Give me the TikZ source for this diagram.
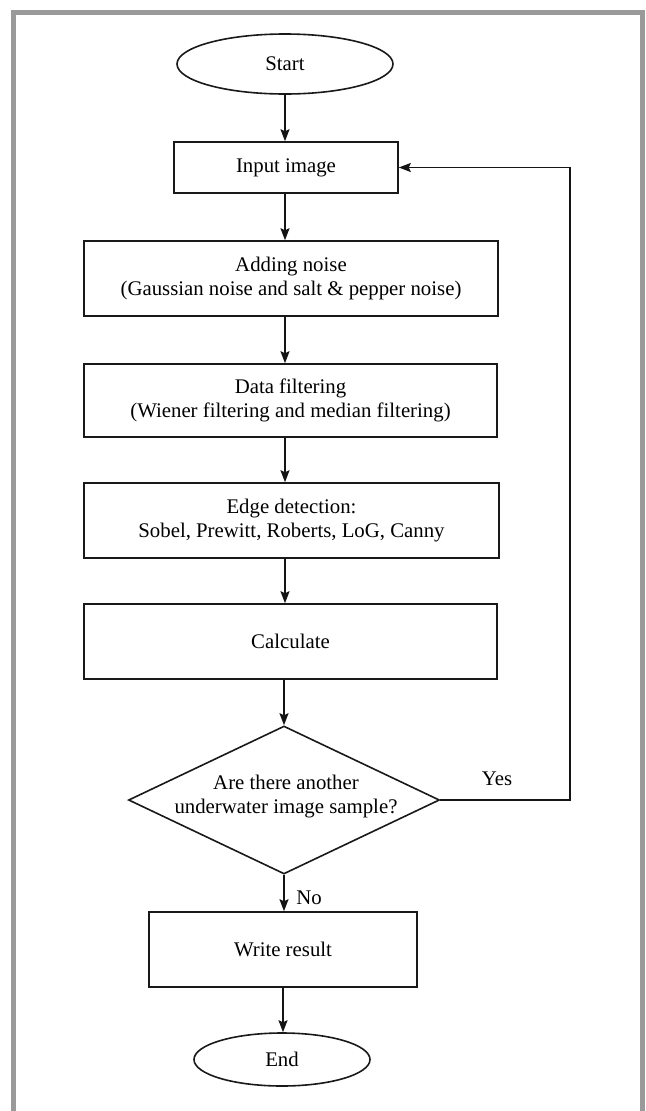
\documentclass[tikz,border=0pt]{standalone}
\usepackage{fontspec}
\setmainfont{Liberation Serif}
\usetikzlibrary{shapes.geometric,arrows.meta,calc}
\begin{document}
\begin{tikzpicture}[x=0.75pt,y=-0.75pt,
  every node/.style={font=\fontsize{15.6}{18}\selectfont, text=black},
  ln/.style={draw={rgb,255:red,25;green,25;blue,25}, line width=1.2pt},
  procbox/.style={ln, rectangle, inner sep=0pt, align=center},
  term/.style={ln, ellipse, inner sep=0pt},
  decision/.style={ln, diamond, inner sep=0pt, minimum width=233.25pt, minimum height=111pt},
  txt/.style={inner sep=0pt, align=center},
  arr/.style={draw={rgb,255:red,20;green,20;blue,20}, line width=1pt, -{Stealth[length=9pt,width=6.8pt,inset=1.5pt]}},
  frame/.style={draw={rgb,255:red,154;green,154;blue,154}, line width=3.8pt}
]
\useasboundingbox (0,0) rectangle (646,1111);
\draw[frame] (13.5,1125) -- (13.5,12.5) -- (642.5,12.5) -- (642.5,1125);

\node[term, minimum width=162pt, minimum height=45pt] (start) at (285,64) {Start};
\node[procbox, minimum width=168pt, minimum height=38.25pt] (in) at (286,167.5) {Input image};
\node[procbox, minimum width=310.5pt, minimum height=56.25pt] (add) at (291,278.5) {Adding noise\\(Gaussian noise and salt \& pepper noise)};
\node[procbox, minimum width=309.75pt, minimum height=54.75pt] (data) at (290.5,400.5) {Data filtering\\(Wiener filtering and median filtering)};
\node[procbox, minimum width=311.25pt, minimum height=56.25pt] (edge) at (291.5,520.5) {Edge detection:\\Sobel, Prewitt, Roberts, LoG, Canny};
\node[procbox, minimum width=309.75pt, minimum height=56.25pt] (calc) at (290.5,641.5) {Calculate};
\node[decision] (d) at (284,800) {};
\node[txt] (dtxt) at (286,797) {Are there another\\underwater image sample?};
\node[procbox, minimum width=201pt, minimum height=56.25pt] (wr) at (283,949.5) {Write result};
\node[term, minimum width=132pt, minimum height=39.75pt] (en) at (282,1059.5) {End};

\coordinate (axis) at (285,0);
\coordinate (lp) at (570,800);

\draw[arr] (start.south) -- (start.south |- in.north);
\draw[arr] (axis |- in.south) -- (axis |- add.north);
\draw[arr] (axis |- add.south) -- (axis |- data.north);
\draw[arr] (axis |- data.south) -- (axis |- edge.north);
\draw[arr] (axis |- edge.south) -- (axis |- calc.north);
\draw[arr] (d.north |- calc.south) -- (d.north);
\draw[arr] (d.south) -- (d.south |- wr.north);
\draw[arr] (wr.south) -- (wr.south |- en.north);
\draw[arr] (d.east) -- (lp) |- (in.east);

\node[txt] (yes) at (497,779) {Yes};
\node[txt] (no) at (309,898) {No};
\end{tikzpicture}
\end{document}
